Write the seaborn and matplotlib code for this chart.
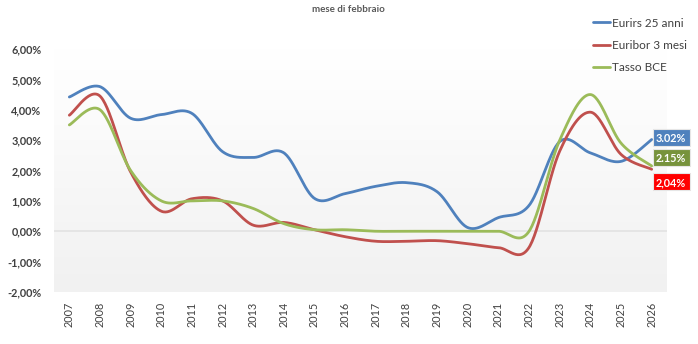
import numpy as np
import pandas as pd
import matplotlib
matplotlib.use("Agg")
import matplotlib.pyplot as plt
from matplotlib.patches import Rectangle
import seaborn as sns

years = list(range(2007, 2027))
eurirs_25 = [4.42, 4.76, 3.72, 3.84, 3.88, 2.62, 2.43, 2.58, 1.08, 1.24, 1.48, 1.60, 1.30,
             0.12, 0.45, 0.85, 2.95, 2.58, 2.30, 3.02]
euribor_3m = [3.82, 4.45, 1.95, 0.66, 1.07, 1.00, 0.20, 0.29, 0.05, -0.18, -0.33, -0.33, -0.31,
              -0.41, -0.54, -0.53, 2.64, 3.92, 2.53, 2.04]
tasso_bce = [3.50, 4.00, 2.00, 1.00, 1.00, 1.00, 0.75, 0.25, 0.05, 0.05, 0.00, 0.00, 0.00,
             0.00, 0.00, 0.00, 3.00, 4.50, 2.90, 2.15]
series_names = ["Eurirs 25 anni", "Euribor 3 mesi", "Tasso BCE"]
end_labels = ["3.02%", "2.15%", "2,04%"]
title = "mese di febbraio"
ytick_vals = [-2, -1, 0, 1, 2, 3, 4, 5, 6]

line_colors = ["#4F81BD", "#C0504D", "#9BBB59"]
box_colors = ["#4F81BD", "#77933C", "#FF0000"]


def smooth(xs, ys, n=30):
    """Excel-like smoothed line (Catmull-Rom via cubic Bezier) for drawing."""
    xs = np.asarray(xs, float)
    ys = np.asarray(ys, float)
    px, py = [], []
    m = len(xs)
    for i in range(m - 1):
        i0 = max(i - 1, 0)
        i3 = min(i + 2, m - 1)
        p0 = np.array([xs[i], ys[i]])
        p3 = np.array([xs[i + 1], ys[i + 1]])
        p1 = p0 + (np.array([xs[i + 1], ys[i + 1]]) - np.array([xs[i0], ys[i0]])) / 6
        p2 = p3 - (np.array([xs[i3], ys[i3]]) - np.array([xs[i], ys[i]])) / 6
        t = np.linspace(0, 1, n, endpoint=(i == m - 2))
        pts = ((1 - t) ** 3)[:, None] * p0 + (3 * (1 - t) ** 2 * t)[:, None] * p1 \
            + (3 * (1 - t) * t ** 2)[:, None] * p2 + (t ** 3)[:, None] * p3
        px.extend(pts[:, 0])
        py.extend(pts[:, 1])
    return px, py


frames = []
for name, vals in zip(series_names, [eurirs_25, euribor_3m, tasso_bce]):
    sx, sy = smooth(years, vals)
    frames.append(pd.DataFrame({"x": sx, "y": sy, "serie": name}))
df = pd.concat(frames, ignore_index=True)

sns.set_style("white")
plt.rcParams["font.family"] = ["Lato", "DejaVu Sans"]

fig = plt.figure(figsize=(6.98, 3.44), dpi=100)
W, H = 698, 344
ax = fig.add_axes([54 / W, (H - 292) / H, (667 - 54) / W, (292 - 49) / H])

# gradient plot-area background
grad = np.linspace(0, 1, 256)[:, None]
cmap = matplotlib.colors.LinearSegmentedColormap.from_list(
    "g", [(0, "#F1F1F1"), (0.5, "#F8F8F8"), (0.75, "#FCFCFC"), (1, "#FFFFFF")])
ax.imshow(grad, extent=[2006.5, 2026.5, -2, 6], origin="lower", aspect="auto",
          cmap=cmap, zorder=0)
ax.axhline(0, color="#E3E3E3", lw=1.2, zorder=1)

sns.lineplot(data=df, x="x", y="y", hue="serie", palette=line_colors, sort=False,
             estimator=None, units="serie", lw=2.0, ax=ax, zorder=3, legend=False)

ax.set_xlim(2006.5, 2026.5)
ax.set_ylim(-2, 6)
ax.set_xticks(years)
ax.set_xticklabels([str(y) for y in years], rotation=90, fontsize=7.8, color="#404040")
ax.set_yticks(ytick_vals)
ax.set_yticklabels([f"{v:.2f}%".replace(".", ",") for v in ytick_vals],
                   fontsize=7.8, fontweight="bold", color="#404040")
ax.tick_params(axis="both", length=0)
ax.tick_params(axis="y", pad=9)
ax.tick_params(axis="x", pad=7)
ax.set_xlabel("")
ax.set_ylabel("")
for s in ax.spines.values():
    s.set_visible(False)

# end labels: fixed-size boxes placed relative to the last data point (pixel offsets)
last_vals = [eurirs_25[-1], tasso_bce[-1], euribor_3m[-1]]
dy_px = [1.8, 8.7, -12.5]   # box centre offset from the point, pixels (up positive)
bw, bh = 37, 17
for lab, v, col, dy in zip(end_labels, last_vals, box_colors, dy_px):
    px, py = ax.transData.transform((years[-1], v))
    x0 = px + 1
    yc = py + dy
    fig.patches.append(Rectangle(((x0) / W, (yc - bh / 2) / H), bw / W, bh / H,
                                 transform=fig.transFigure, fc=col, ec="#E6E6E6",
                                 lw=0.8, zorder=5))
    fig.text((x0 + bw / 2) / W, yc / H, lab, ha="center", va="center_baseline",
             fontsize=7.8, fontweight="bold", color="white", zorder=6)

fig.text(348 / W, 1 - 10 / H, title, ha="center", va="center", fontsize=7,
         fontweight="bold", color="#595959")

handles = [matplotlib.lines.Line2D([], [], color=c, lw=2.0) for c in line_colors]
fig.legend(handles, series_names, loc="upper left", bbox_to_anchor=(582 / W, 1 - 7 / H),
           frameon=False, fontsize=8.5, handlelength=1.5, handletextpad=0.15,
           labelspacing=0.95, labelcolor="#404040")

fig.savefig("out.png", dpi=100)
